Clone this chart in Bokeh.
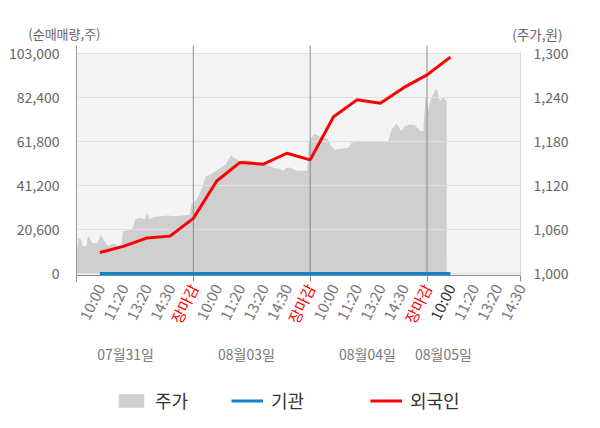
import math
from bokeh.plotting import figure
from bokeh.models import (Range1d, LinearAxis, FixedTicker, NumeralTickFormatter,
                          Label, Legend, LegendItem, BoxAnnotation)
from bokeh.embed import file_html
from bokeh.resources import INLINE

# ---------------- data ----------------
tick_labels = ["10:00", "11:20", "13:20", "14:30", "장마감",
               "10:00", "11:20", "13:20", "14:30", "장마감",
               "10:00", "11:20", "13:20", "14:30", "장마감",
               "10:00", "11:20", "13:20", "14:30"]
date_labels = ["07월31일", "08월03일", "08월04일", "08월05일"]
date_pos = [2.1, 7.27, 12.45, 15.7]

# net trading volume (shares) at tick slots 1..16
foreign_net = [9800, 12700, 16600, 17500, 25800, 43300, 52000, 51200,
               56300, 53200, 73400, 81300, 79700, 87000, 93000, 101300]
inst_net = [0, 0, 0, 0, 0, 0, 0, 0, 0, 0, 0, 0, 0, 0, 0, 0]

# stock price (won), time measured in tick slots
price_t = [0.00, 0.08, 0.20, 0.27, 0.41, 0.49, 0.60, 0.70, 0.90, 1.03,
           1.20, 1.35, 1.55, 1.77, 1.92, 1.99, 2.27, 2.42, 2.52, 2.70,
           2.92, 3.03, 3.13, 3.34, 3.63, 3.91, 4.20, 4.49, 4.85, 4.92,
           5.10, 5.32, 5.54, 5.75, 5.97, 6.18, 6.39, 6.60, 6.75, 6.97,
           7.18, 7.40, 7.61, 7.82, 8.04, 8.25, 8.47, 8.68, 8.83, 9.04,
           9.26, 9.47, 9.87, 9.94, 10.04, 10.18, 10.40, 10.61, 10.76, 10.90,
           11.04, 11.33, 11.62, 11.76, 12.12, 12.48, 12.90, 13.33, 13.48, 13.70,
           13.90, 14.05, 14.26, 14.48, 14.69, 14.84, 14.94, 15.05, 15.19, 15.41,
           15.55, 15.70, 15.84]
price_v = [1024, 1049, 1046, 1037, 1037, 1051, 1046, 1041, 1042, 1053,
           1044, 1037, 1041, 1038, 1037, 1058, 1059, 1062, 1074, 1076,
           1074, 1082, 1074, 1077, 1078, 1079, 1078, 1079, 1080, 1094,
           1099, 1112, 1133, 1135, 1140, 1144, 1149, 1161, 1158, 1153,
           1155, 1154, 1151, 1152, 1151, 1147, 1144, 1143, 1140, 1145,
           1143, 1140, 1140, 1180, 1185, 1190, 1187, 1185, 1183, 1174,
           1169, 1170, 1171, 1178, 1181, 1180, 1180, 1180, 1196, 1205,
           1194, 1201, 1203, 1202, 1195, 1194, 1244, 1224, 1240, 1253,
           1235, 1240, 1235]

vol_ticks = [0, 20600, 41200, 61800, 82400, 103000]
price_ticks = [1000, 1060, 1120, 1180, 1240, 1300]

# ---------------- layout constants (pixels) ----------------
FONT = "Noto Sans CJK KR"
W, H = 592, 420
X0, X1 = 76.0, 520.0      # pixel x of slot 0 and of the last slot
Y0, YT = 273.0, 53.0      # pixel y of the lowest and highest value tick
n_slots = len(tick_labels)
v0, v1 = vol_ticks[0], vol_ticks[-1]
q0, q1 = price_ticks[0], price_ticks[-1]
ppx = (X1 - X0) / n_slots
vpp = (v1 - v0) / (Y0 - YT)
qpp = (q1 - q0) / (Y0 - YT)


def dx(px):
    return (px - X0) / ppx


def dy(py):
    return v0 + (Y0 - py) * vpp


def dq(py):
    return q0 + (Y0 - py) * qpp


slots = list(range(1, len(foreign_net) + 1))
tick_pos = list(range(1, n_slots + 1))
close_pos = [i for i, t in zip(tick_pos, tick_labels) if t == "장마감"]
today_pos = [16]
axis_y = dy(274.5)

p = figure(width=W, height=H, output_backend="svg", toolbar_location=None,
           x_range=Range1d(dx(0), dx(W)), y_range=Range1d(dy(H), dy(0)),
           min_border=0, x_axis_location=None, y_axis_location=None)
p.extra_y_ranges = {"price": Range1d(dq(H), dq(0))}
p.grid.visible = False
p.outline_line_color = None
p.background_fill_color = "white"
p.border_fill_color = "white"

# plot panel background
p.add_layout(BoxAnnotation(left=0, right=n_slots, bottom=dy(274.5), top=dy(52),
                           fill_color="#f4f4f4", fill_alpha=1.0,
                           line_color=None, level="underlay"))

# ---------------- axes ----------------
ly = LinearAxis(fixed_location=0, ticker=FixedTicker(ticks=vol_ticks),
                formatter=NumeralTickFormatter(format="0,0"),
                bounds=(dy(274.5), dy(45)))
ly.major_tick_line_color = None
ly.minor_tick_line_color = None
ly.axis_line_color = "#999999"
ly.major_label_text_font = FONT
ly.major_label_text_font_size = "14px"
ly.major_label_text_color = "#666666"
ly.major_label_standoff = 11
p.add_layout(ly, "left")

ry = LinearAxis(y_range_name="price", fixed_location=n_slots,
                ticker=FixedTicker(ticks=price_ticks),
                formatter=NumeralTickFormatter(format="0,0"),
                bounds=(dq(274.5), dq(52)))
ry.major_tick_line_color = None
ry.minor_tick_line_color = None
ry.axis_line_color = "#d4d4d4"
ry.major_label_text_font = FONT
ry.major_label_text_font_size = "14px"
ry.major_label_text_color = "#666666"
ry.major_label_standoff = 7
p.add_layout(ry, "right")


def style_x(ax, color):
    ax.major_label_orientation = math.radians(64)
    ax.major_tick_line_color = None
    ax.major_tick_out = 6
    ax.major_label_standoff = 4
    ax.major_label_text_font = FONT
    ax.major_label_text_font_size = "15px"
    ax.major_label_text_color = color


overrides = {i: t for i, t in zip(tick_pos, tick_labels)}
for i in close_pos + today_pos:
    overrides[i] = ""
xa = LinearAxis(fixed_location=axis_y, bounds=(0, n_slots),
                ticker=FixedTicker(ticks=tick_pos, minor_ticks=[0] + close_pos + [n_slots]),
                major_label_overrides=overrides)
style_x(xa, "#777777")
xa.minor_tick_in = 0
xa.minor_tick_out = 6
xa.minor_tick_line_color = "#888888"
xa.axis_line_color = "#888888"
p.add_layout(xa, "below")

# coloured time labels: market close in red, today's session start dark
for ticks, col in [(close_pos, "#ff0000"), (today_pos, "#333333")]:
    ax = LinearAxis(fixed_location=axis_y, bounds=(0, n_slots),
                    ticker=FixedTicker(ticks=ticks, minor_ticks=[]),
                    major_label_overrides={i: tick_labels[i - 1] for i in ticks})
    style_x(ax, col)
    ax.axis_line_color = None
    ax.minor_tick_line_color = None
    p.add_layout(ax, "below")

# ---------------- data glyphs ----------------
area = p.varea(x=price_t, y1=q0, y2=price_v, y_range_name="price",
               fill_color="#cfcfcf")

# grid lines drawn over the price area
p.segment(x0=[0] * len(vol_ticks), x1=[n_slots] * len(vol_ticks),
          y0=vol_ticks, y1=vol_ticks, line_color="#e0e0e0", line_width=1)
p.segment(x0=close_pos, x1=close_pos, y0=[dy(274.5)] * len(close_pos),
          y1=[dy(45)] * len(close_pos), line_color="#8c8c8c", line_width=1)

inst = p.line(slots, inst_net, line_color="#0a83cc", line_width=3)
frgn = p.line(slots, foreign_net, line_color="#ff0000", line_width=3)

# ---------------- texts ----------------
for d, t in zip(date_pos, date_labels):
    p.add_layout(Label(x=d, y=dy(353), text=t, text_align="center",
                       text_baseline="middle", text_font=FONT,
                       text_font_size="14px", text_color="#777777"))

p.add_layout(Label(x=dx(100), y=dy(33), text="(순매매량,주)", text_align="right",
                   text_baseline="middle", text_font=FONT, text_font_size="13px",
                   text_color="#666666"))
p.add_layout(Label(x=dx(562), y=dy(33), text="(주가,원)", text_align="right",
                   text_baseline="middle", text_font=FONT, text_font_size="13.5px",
                   text_color="#666666"))

# ---------------- legends ----------------
for r, name, lx in [(area, "주가", 115), (inst, "기관", 231), (frgn, "외국인", 370)]:
    lg = Legend(items=[LegendItem(label=name, renderers=[r])], location=(lx, H - 413),
                orientation="horizontal", padding=0, margin=0,
                glyph_width=32, glyph_height=17, label_standoff=8,
                label_text_font=FONT, label_text_font_size="18px",
                label_text_color="#333333", background_fill_alpha=0,
                border_line_color=None)
    p.add_layout(lg, "center")

open("out.html", "w").write(file_html(p, INLINE))
